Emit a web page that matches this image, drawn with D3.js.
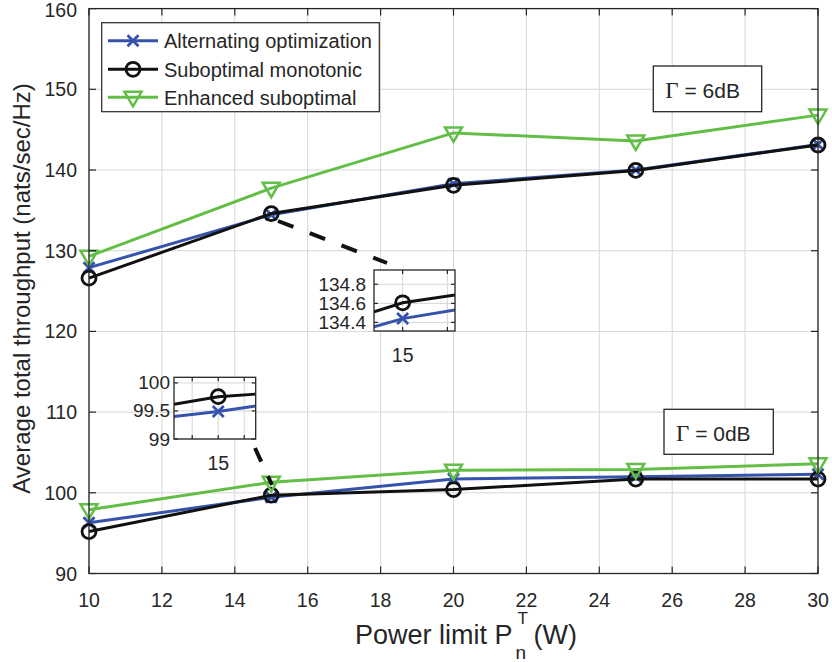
<!DOCTYPE html>
<html><head><meta charset="utf-8">
<script src="https://cdn.jsdelivr.net/npm/d3@7"></script>
<style>body{margin:0;background:#fff}svg{display:block}</style>
</head><body><svg id="c" width="832" height="662"></svg>
<script>
// ---------- data ----------
const powerLimits = [10, 15, 20, 25, 30];
const alt6dB = [127.9, 134.45, 138.3, 140.0, 143.15];
const sub6dB = [126.6, 134.6, 138.1, 139.95, 143.1];
const enh6dB = [129.3, 137.75, 144.6, 143.6, 146.8];
const alt0dB = [96.3, 99.45, 101.7, 102.0, 102.3];
const sub0dB = [95.2, 99.7, 100.4, 101.7, 101.7];
const enh0dB = [97.9, 101.3, 102.8, 102.9, 103.6];
const xTicks = [10, 12, 14, 16, 18, 20, 22, 24, 26, 28, 30];
const yTicks = [90, 100, 110, 120, 130, 140, 150, 160];
const legendLabels = ["Alternating optimization", "Suboptimal monotonic", "Enhanced suboptimal"];
const seriesColors = ["#3653ab", "#111111", "#62be46"];
const seriesMarkers = ["x", "o", "v"];
const annotations = ["6dB", "0dB"];
// inset (zoom at 6 dB, P = 15)
const insetA_x = [14.36, 15, 16.17];
const insetA_alt = [134.354, 134.44, 134.53];
const insetA_sub = [134.51, 134.606, 134.687];
const insetA_yTicks = [134.4, 134.6, 134.8];
const insetA_xTicks = [15, 16];
// inset (zoom at 0 dB, P = 15)
const insetB_x = [14.15, 15, 15.72];
const insetB_alt = [99.40, 99.49, 99.59];
const insetB_sub = [99.62, 99.755, 99.80];
const insetB_yTicks = [99, 99.5, 100];
const insetB_xTicks = [14.5, 15, 15.5];

// ---------- setup ----------
const svg = d3.select("#c");
const FONT = "'Liberation Sans', Arial, Helvetica, sans-serif";
const axisColor = "#262626", gridColor = "#d6d6d6";
const L = 89, R = 818, T = 8.6, B = 573.5;
const x = d3.scaleLinear().domain([10, 30]).range([L, R]);
const y = d3.scaleLinear().domain([90, 160]).range([B, T]);

function marker(g, type, cx, cy, color) {
  if (type === "o") {
    g.append("circle").attr("cx", cx).attr("cy", cy).attr("r", 7)
      .attr("fill", "none").attr("stroke", color).attr("stroke-width", 2.8);
  } else if (type === "x") {
    const s = 5.5;
    g.append("path").attr("d", `M${cx-s},${cy-s}L${cx+s},${cy+s}M${cx-s},${cy+s}L${cx+s},${cy-s}`)
      .attr("stroke", color).attr("stroke-width", 2.8).attr("fill", "none");
  } else {
    const w = 8.5;
    g.append("path").attr("d", `M${cx-w},${cy-5.5}L${cx+w},${cy-5.5}L${cx},${cy+9}Z`)
      .attr("stroke", color).attr("stroke-width", 2.5).attr("fill", "none").attr("stroke-linejoin", "miter");
  }
}

function drawBox(g, xs, ys, xt, yt) {
  const [x0, x1] = xs.range(), [y0, y1] = ys.range();
  g.selectAll(null).data(xt).enter().append("line")
    .attr("x1", d => xs(d)).attr("x2", d => xs(d)).attr("y1", y0).attr("y2", y1)
    .attr("stroke", gridColor).attr("stroke-width", 1);
  g.selectAll(null).data(yt).enter().append("line")
    .attr("y1", d => ys(d)).attr("y2", d => ys(d)).attr("x1", x0).attr("x2", x1)
    .attr("stroke", gridColor).attr("stroke-width", 1);
}
function drawFrame(g, xs, ys, xt, yt, tickLen) {
  const [x0, x1] = xs.range(), [y0, y1] = ys.range();
  g.append("rect").attr("x", x0).attr("y", y1).attr("width", x1 - x0).attr("height", y0 - y1)
    .attr("fill", "none").attr("stroke", axisColor).attr("stroke-width", 1.3);
  xt.forEach(d => {
    g.append("line").attr("x1", xs(d)).attr("x2", xs(d)).attr("y1", y0).attr("y2", y0 - tickLen).attr("stroke", axisColor).attr("stroke-width", 1.2);
    g.append("line").attr("x1", xs(d)).attr("x2", xs(d)).attr("y1", y1).attr("y2", y1 + tickLen).attr("stroke", axisColor).attr("stroke-width", 1.2);
  });
  yt.forEach(d => {
    g.append("line").attr("y1", ys(d)).attr("y2", ys(d)).attr("x1", x0).attr("x2", x0 + tickLen).attr("stroke", axisColor).attr("stroke-width", 1.2);
    g.append("line").attr("y1", ys(d)).attr("y2", ys(d)).attr("x1", x1).attr("x2", x1 - tickLen).attr("stroke", axisColor).attr("stroke-width", 1.2);
  });
}

// ---------- main axes ----------
const main = svg.append("g");
main.append("rect").attr("x", L).attr("y", T).attr("width", R - L).attr("height", B - T).attr("fill", "#fff");
drawBox(main, x, y, xTicks, yTicks);

main.selectAll(null).data(xTicks).enter().append("text")
  .attr("x", d => x(d)).attr("y", 607).attr("text-anchor", "middle")
  .attr("font-family", FONT).attr("font-size", 19.5).attr("fill", axisColor).text(d => d);
main.selectAll(null).data(yTicks).enter().append("text")
  .attr("x", 77).attr("y", d => Math.max(y(d) + 7, 17)).attr("text-anchor", "end")
  .attr("font-family", FONT).attr("font-size", 19.5).attr("fill", axisColor).text(d => d);

// series
const groups = [[alt6dB, sub6dB, enh6dB], [alt0dB, sub0dB, enh0dB]];
const line = d3.line().x((d, i) => x(powerLimits[i])).y(d => y(d));
const seriesLayer = svg.append("g");
[0, 1, 2].forEach(si => {
  groups.forEach(gr => {
    const vals = gr[si];
    seriesLayer.append("path").datum(vals).attr("d", line).attr("fill", "none")
      .attr("stroke", seriesColors[si]).attr("stroke-width", 3).attr("stroke-linejoin", "round");
    vals.forEach((v, i) => marker(seriesLayer, seriesMarkers[si], x(powerLimits[i]), y(v), seriesColors[si]));
  });
});
drawFrame(svg.append("g"), x, y, xTicks, yTicks, 7);

// axis labels
svg.append("text").attr("transform", "translate(29.5,288.5) rotate(-90)").attr("text-anchor", "middle")
  .attr("font-family", FONT).attr("font-size", 24).attr("fill", axisColor)
  .text("Average total throughput (nats/sec/Hz)");
const xl = svg.append("g").attr("font-family", FONT).attr("fill", axisColor);
const xl1 = xl.append("text").attr("x", 355).attr("y", 644).attr("font-size", 27).text("Power limit P");
const w1 = xl1.node().getComputedTextLength();
xl.append("text").attr("x", 355 + w1 + 5).attr("y", 624).attr("font-size", 17).text("T");
xl.append("text").attr("x", 355 + w1 + 3).attr("y", 659).attr("font-size", 19).text("n");
xl.append("text").attr("x", 355 + w1 + 21).attr("y", 644).attr("font-size", 27).text("(W)");

// ---------- legend ----------
const lg = svg.append("g");
lg.append("rect").attr("x", 101.7).attr("y", 22.7).attr("width", 277.6).attr("height", 89)
  .attr("fill", "#fff").attr("stroke", axisColor).attr("stroke-width", 1.2);
const rowY = [40.7, 69.3, 97.3];
legendLabels.forEach((lab, i) => {
  lg.append("line").attr("x1", 108).attr("x2", 158).attr("y1", rowY[i]).attr("y2", rowY[i])
    .attr("stroke", seriesColors[i]).attr("stroke-width", 3);
  marker(lg, seriesMarkers[i], 133, rowY[i], seriesColors[i]);
  lg.append("text").attr("x", 164).attr("y", rowY[i] + 7.2).attr("font-family", FONT)
    .attr("font-size", 20).attr("fill", axisColor).text(lab);
});

// ---------- Γ annotations ----------
const annBoxes = [{x: 653.3, y: 66, w: 108.4, h: 45.7}, {x: 664, y: 409.3, w: 109.3, h: 45}];
annotations.forEach((a, i) => {
  const b = annBoxes[i];
  const g = svg.append("g");
  g.append("rect").attr("x", b.x).attr("y", b.y).attr("width", b.w).attr("height", b.h)
    .attr("fill", "#fff").attr("stroke", axisColor).attr("stroke-width", 1.3);
  const t = g.append("text").attr("x", b.x + 12).attr("y", b.y + 31.5).attr("fill", axisColor);
  t.append("tspan").attr("font-family", "'Liberation Serif', 'Times New Roman', serif").attr("font-size", 23).text("Γ");
  t.append("tspan").attr("font-family", FONT).attr("font-size", 21).text(" = " + a);
});

// ---------- insets ----------
function inset(box, xdom, ydom, xs_, alt, sub, xt, yt, xLabelVals, clipId, labGap) {
  const xs = d3.scaleLinear().domain(xdom).range([box.x0, box.x1]);
  const ys = d3.scaleLinear().domain(ydom).range([box.y1, box.y0]);
  const g = svg.append("g");
  g.append("rect").attr("x", box.x0).attr("y", box.y0).attr("width", box.x1 - box.x0).attr("height", box.y1 - box.y0).attr("fill", "#fff");
  drawBox(g, xs, ys, xt, yt);
  svg.append("clipPath").attr("id", clipId).append("rect")
    .attr("x", box.x0).attr("y", box.y0).attr("width", box.x1 - box.x0).attr("height", box.y1 - box.y0);
  const ln = d3.line().x((d, i) => xs(xs_[i])).y(d => ys(d));
  const cg = g.append("g").attr("clip-path", `url(#${clipId})`);
  cg.append("path").datum(alt).attr("d", ln).attr("fill", "none").attr("stroke", seriesColors[0]).attr("stroke-width", 3);
  cg.append("path").datum(sub).attr("d", ln).attr("fill", "none").attr("stroke", seriesColors[1]).attr("stroke-width", 3);
  marker(cg, "x", xs(xs_[1]), ys(alt[1]), seriesColors[0]);
  marker(cg, "o", xs(xs_[1]), ys(sub[1]), seriesColors[1]);
  drawFrame(g, xs, ys, xt, yt, 4);
  g.selectAll(null).data(yt).enter().append("text").attr("x", box.x0 - labGap).attr("y", d => ys(d) + 6.5)
    .attr("text-anchor", "end").attr("font-family", FONT).attr("font-size", 19).attr("fill", axisColor).text(d => d);
  g.selectAll(null).data(xLabelVals).enter().append("text").attr("x", d => xs(d)).attr("y", box.y1 + 31)
    .attr("text-anchor", "middle").attr("font-family", FONT).attr("font-size", 19.5).attr("fill", axisColor).text(d => d);
}
inset({x0: 374, x1: 455, y0: 270, y1: 331}, [14.36, 16.17], [134.31, 134.95], insetA_x, insetA_alt, insetA_sub,
  insetA_xTicks, insetA_yTicks, [15], "clipA", 8);
inset({x0: 174, x1: 255.7, y0: 377.3, y1: 439}, [14.15, 15.72], [99, 100.1], insetB_x, insetB_alt, insetB_sub,
  insetB_xTicks, insetB_yTicks, [15], "clipB", 4);

// dashed connectors
svg.append("line").attr("x1", 278).attr("y1", 221).attr("x2", 387).attr("y2", 263)
  .attr("stroke", "#111").attr("stroke-width", 4).attr("stroke-dasharray", "16.5 17.5");
svg.append("line").attr("x1", 255).attr("y1", 448).attr("x2", 272).attr("y2", 485)
  .attr("stroke", "#111").attr("stroke-width", 4).attr("stroke-dasharray", "15 16");
</script></body></html>
